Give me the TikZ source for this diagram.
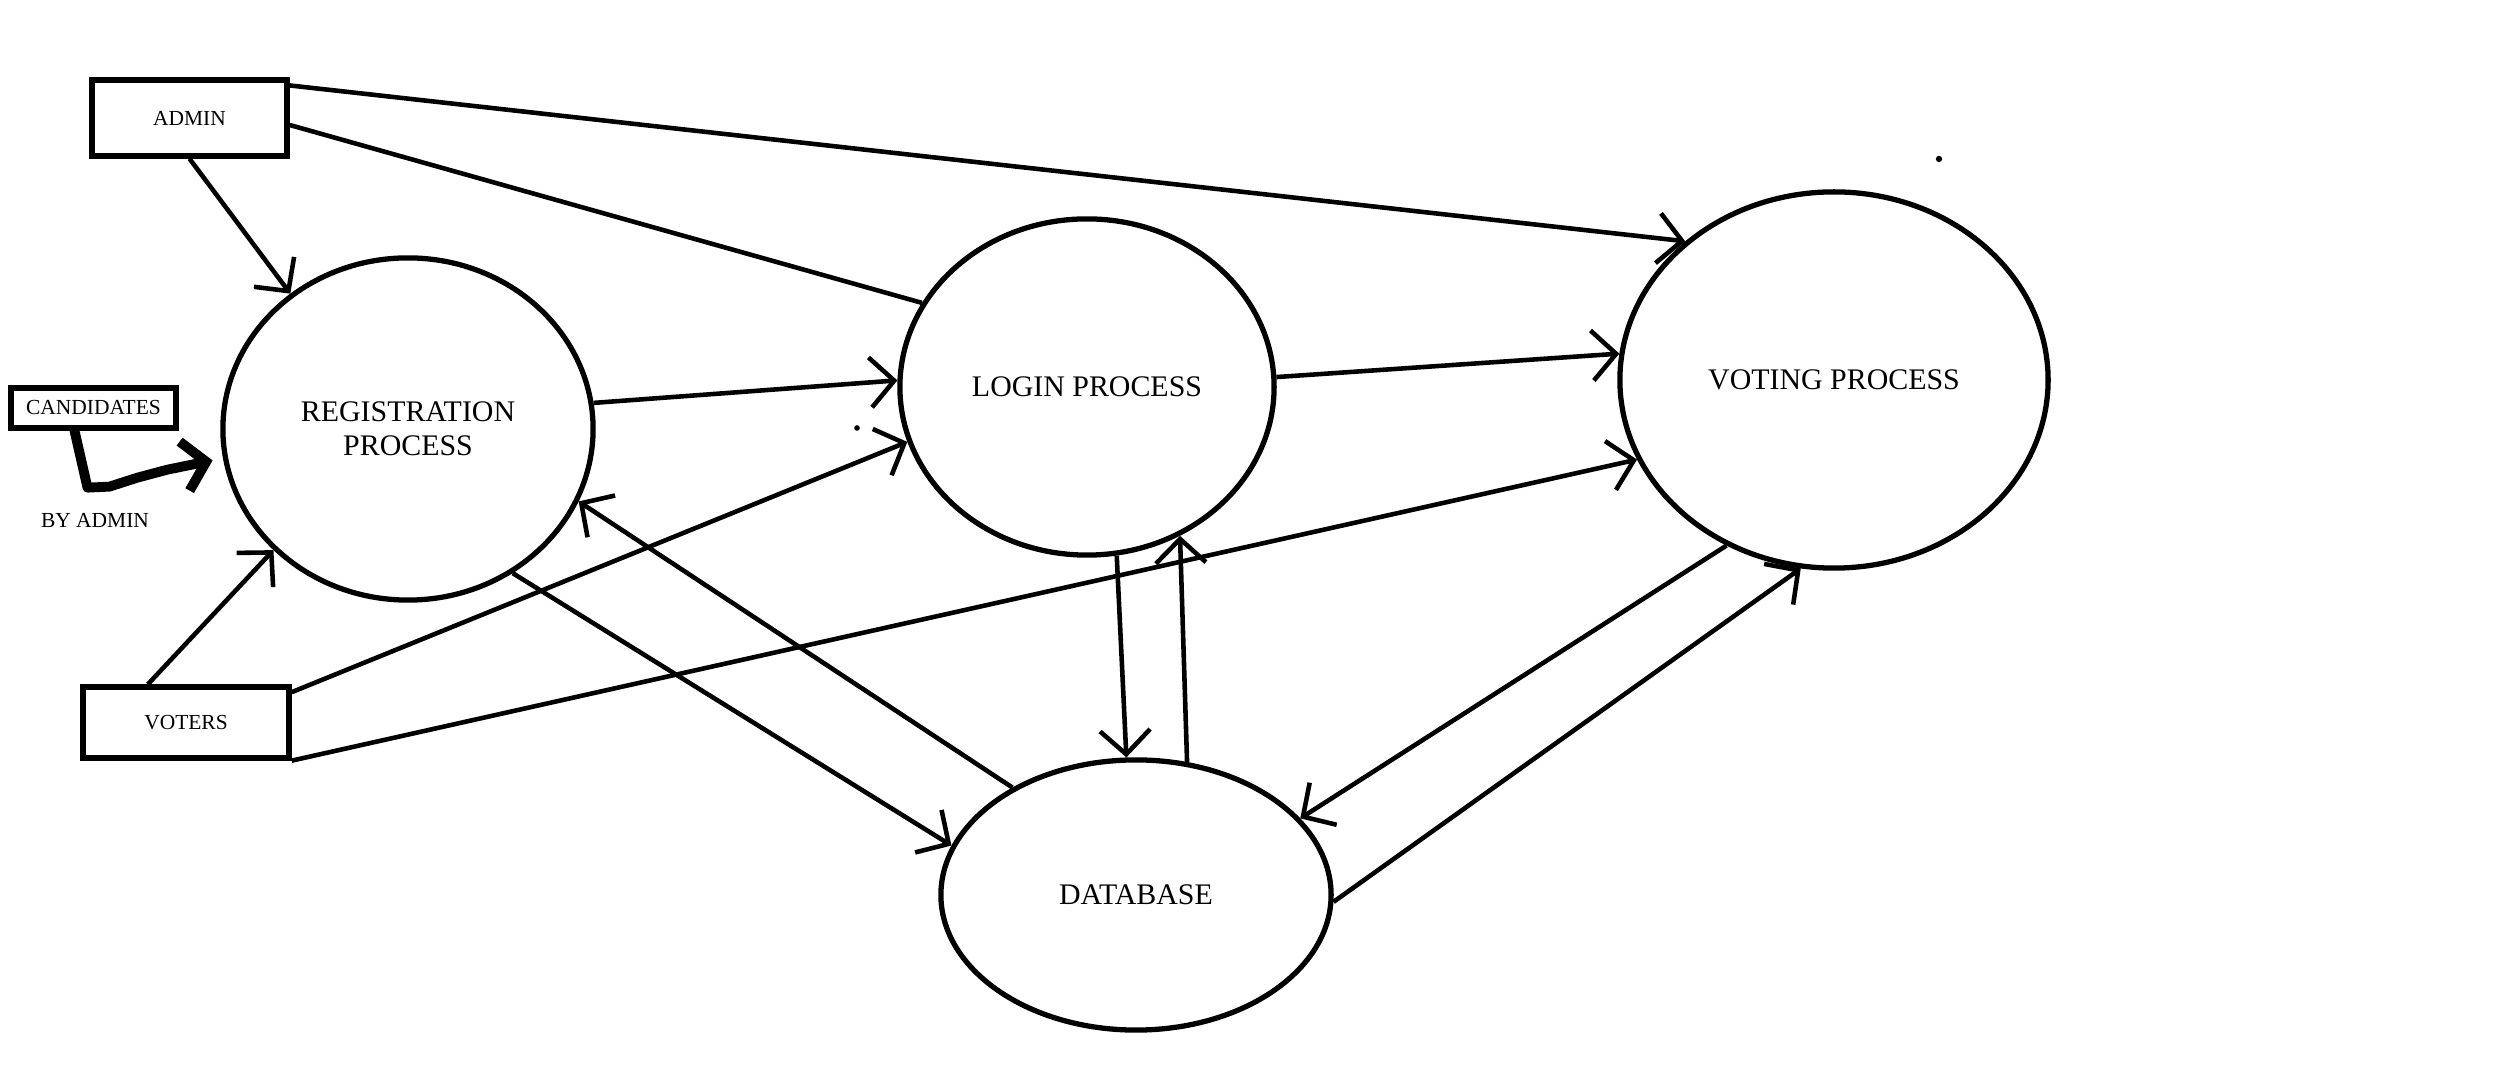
\documentclass[tikz,border=0pt]{standalone}
\usepackage{fontspec}
\setmainfont{Liberation Serif}
\usetikzlibrary{arrows.meta,shapes.geometric}

\begin{document}
\begin{tikzpicture}[x=0.01cm, y=-0.01cm, line width=1.3pt,
    entity/.style={draw, line width=1.5pt, inner sep=0, font=\fontsize{6.1}{7}\selectfont},
    process/.style={draw, ellipse, line width=1.5pt, inner sep=0, align=center, font=\fontsize{8.5}{9.6}\selectfont},
    flow/.style={-{Straight Barb[length=2.4mm,width=5mm]}}]
    \useasboundingbox (0,0) rectangle (2496,1080);

    % External entities (Left)
    \node[entity, minimum width=1.95cm, minimum height=0.76cm] (admin) at (189.5,118) {ADMIN};
    \node[entity, minimum width=1.65cm, minimum height=0.40cm] (candidates) at (93.5,408) {CANDIDATES};
    \node[inner sep=0, font=\fontsize{6.1}{7}\selectfont] (byadmin) at (95,520) {BY ADMIN};
    \node[entity, minimum width=2.06cm, minimum height=0.71cm] (voters) at (186,722.5) {VOTERS};

    % Processes
    \node[process, minimum width=3.70cm, minimum height=3.42cm] (reg) at (408,429) {REGISTRATION\\PROCESS};
    \node[process, minimum width=3.74cm, minimum height=3.36cm] (login) at (1087,387) {LOGIN PROCESS};
    \node[process, minimum width=4.28cm, minimum height=3.76cm] (voting) at (1834,380) {VOTING PROCESS};
    \node[process, minimum width=3.90cm, minimum height=2.70cm] (db) at (1136,895) {DATABASE};

    % Admin flows
    \draw[flow] (admin.south) -- (reg.131);
    \draw (admin.-4) -- (login.153);
    \draw[flow] (admin.18) -- (voting.137);

    % Candidates added by admin (hand drawn)
    \draw[line width=2.8pt, line cap=round, line join=round, -{Straight Barb[length=2.2mm,width=5mm]}, shorten >=3pt]
        (candidates.230) -- ++(13,57) -- ++(22,-1) -- ++(28,-9) -- ++(30,-8) -- (reg.189);

    % Voter flows
    \draw[flow] (voters.135) -- (reg.222);
    \draw[flow] (voters.16) -- (login.197);
    \draw[flow] (voters.south east) -- (voting.202);

    % Process to process
    \draw[flow] (reg.8) -- (login.178);
    \draw[flow] (login.3) -- (voting.173);

    % Database flows
    \draw[flow] (reg.306) -- (db.165);
    \draw[flow] (db.139) -- (reg.337);
    \draw[flow] (login.280) -- (db.94);
    \draw[flow] (db.69) -- (login.302);
    \draw[flow] (voting.237) -- (db.25);
    \draw[flow] (db.-2) -- (voting.260);

    % stray dots
    \fill (1939,159) circle[radius=0.9pt];
    \fill (857,428) circle[radius=0.8pt];
\end{tikzpicture}
\end{document}
